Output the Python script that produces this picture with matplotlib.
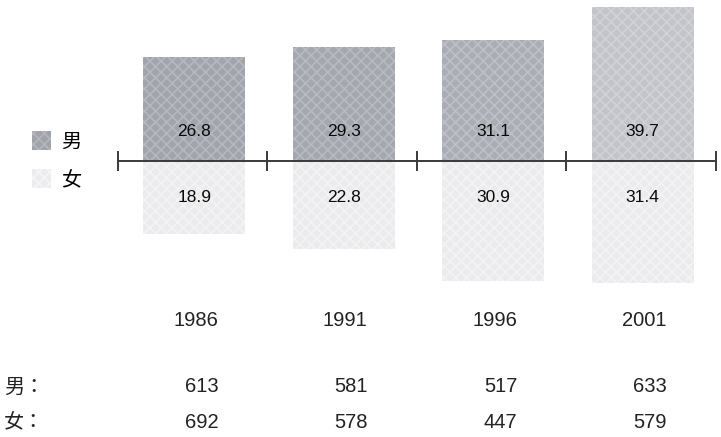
import numpy as np
import matplotlib.pyplot as plt
from matplotlib.patches import Patch

plt.rcParams['font.family'] = ['Liberation Sans', 'Noto Sans CJK SC', 'DejaVu Sans']
plt.rcParams['hatch.linewidth'] = 1.2

years = ['1986', '1991', '1996', '2001']
male_pct = [26.8, 29.3, 31.1, 39.7]
female_pct = [18.9, 22.8, 30.9, 31.4]
male_count = [613, 581, 517, 633]
female_count = [692, 578, 447, 579]
labels = ['男', '女']

male_colors = ['#a2a4ac', '#a5a7af', '#abadb4', '#c3c4c9']
male_hatch = ['#b6b8be', '#b8bac0', '#bec0c5', '#d1d2d6']
female_color = '#ebebed'
female_hatch = '#f3f3f4'

W, H = 721, 437
fig = plt.figure(figsize=(W / 100, H / 100), dpi=100)
ax = fig.add_axes([0, 0, 1, 1])

# pixel layout: category cells are 149.5 px wide starting at x=118,
# zero line at y=161, 3.88 px per percent
cell = 149.5
x0 = 118
ypx = 3.88
ax.set_xlim(-0.5 - x0 / cell, -0.5 + (W - x0) / cell)
ax.set_ylim(-(H - 161) / ypx, 161 / ypx)
ax.axis('off')

x = np.arange(len(years))
bw = 0.68
male_bars = ax.bar(x + 0.01, male_pct, width=bw, color=male_colors,
                   edgecolor=male_hatch, hatch='xxx', linewidth=0)
female_bars = ax.bar(x + 0.01, -np.array(female_pct), width=bw, color=female_color,
                     edgecolor=female_hatch, hatch='xxx', linewidth=0)

# axis line with boundary ticks
ax.hlines(0, -0.5, len(years) - 0.5, color='#3a3a3a', lw=1.4, zorder=3)
ax.vlines(np.arange(len(years) + 1) - 0.5, -2.7, 2.7, color='#3a3a3a', lw=1.4, zorder=3)

for i in range(len(years)):
    ax.text(x[i] + 0.01, 7.7, f'{male_pct[i]:.1f}', ha='center', va='center',
            fontsize=12.5, color='#0a0a0a')
    ax.text(x[i] + 0.01, -9.5, f'{female_pct[i]:.1f}', ha='center', va='center',
            fontsize=12.5, color='#0a0a0a')

tr = ax.get_xaxis_transform()
for i, yr in enumerate(years):
    ax.text(x[i] + 0.02, 1 - 321 / H, yr, transform=tr, ha='center', va='center',
            fontsize=14.5, color='#222222')
    ax.text(x[i] + 0.17, 1 - 387 / H, str(male_count[i]), transform=tr, ha='right',
            va='center', fontsize=14.5, color='#222222')
    ax.text(x[i] + 0.17, 1 - 422 / H, str(female_count[i]), transform=tr, ha='right',
            va='center', fontsize=14.5, color='#222222')

row_font = ['Noto Sans CJK TC', 'DejaVu Sans']
fig.text(4 / W, 1 - 387 / H, labels[0] + '：', ha='left', va='center', fontsize=14.5,
         color='#222222', family=row_font)
fig.text(4 / W, 1 - 422 / H, labels[1] + '：', ha='left', va='center', fontsize=14.5,
         color='#222222', family=row_font)

handles = [Patch(facecolor='#a0a3ab', edgecolor='#b4b6bc', hatch='xxx', linewidth=0),
           Patch(facecolor='#ececee', edgecolor='#f5f5f6', hatch='xxx', linewidth=0)]
ax.legend(handles, labels, loc='upper left', bbox_to_anchor=(32 / W, 1 - 131 / H),
          frameon=False, fontsize=14.5, handlelength=0.95, handleheight=1.1,
          handletextpad=0.5, labelspacing=0.85, borderpad=0, borderaxespad=0)

fig.savefig('out.png', dpi=100)
